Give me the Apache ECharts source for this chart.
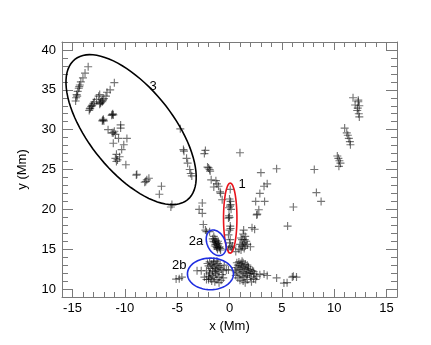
<!DOCTYPE html>
<html>
<head>
<meta charset="utf-8">
<script src="https://cdn.jsdelivr.net/npm/echarts@6/dist/echarts.min.js"></script>
<style>
  html, body { margin: 0; padding: 0; background: #fff; }
  #main { width: 431px; height: 345px; }
</style>
</head>
<body>
<div id="main"></div>
<script>
// 刻度
const xTicks = [-15, -10, -5, 0, 5, 10, 15];
const yTicks = [10, 15, 20, 25, 30, 35, 40];

// 区域3 (左上大椭圆内的点)
const region3Pts = [
    [-13.5, 37.9], [-13.8, 37.1], [-14.0, 36.5], [-14.2, 36.0], [-14.3, 35.6], [-14.35, 35.4],
    [-14.4, 35.2], [-14.5, 34.8], [-14.55, 34.2], [-14.6, 34.4], [-14.65, 34.0], [-14.7, 33.6],
    [-13.4, 32.4], [-13.35, 32.6], [-13.3, 32.7], [-13.2, 32.9], [-13.15, 33.0], [-13.1, 33.1],
    [-13.0, 33.3], [-12.9, 33.5], [-12.7, 33.8], [-12.5, 34.2], [-12.4, 34.4],
    [-12.4, 33.2], [-12.35, 33.3], [-12.3, 33.4], [-12.2, 33.6], [-12.15, 33.5], [-12.1, 33.7],
    [-12.0, 33.9], [-11.8, 34.2], [-11.7, 34.7], [-11.4, 35.0], [-11.0, 35.9],
    [-12.1, 31.2], [-12.15, 31.1], [-12.05, 31.3], [-12.0, 31.1],
    [-11.2, 31.9], [-11.25, 31.8], [-11.15, 32.0], [-11.1, 31.85],
    [-11.6, 30.0], [-11.2, 29.6], [-11.1, 29.6], [-11.0, 29.8], [-10.9, 29.4], [-10.4, 30.6],
    [-10.4, 30.2], [-10.6, 28.9], [-11.1, 28.3], [-9.8, 28.9], [-10.1, 28.1], [-10.3, 27.5],
    [-10.8, 26.9], [-10.5, 26.6], [-10.9, 26.4], [-10.7, 26.2], [-10.8, 26.0], [-9.9, 25.6],
    [-8.9, 24.3], [-8.85, 24.4], [-7.9, 23.7], [-8.1, 23.4], [-7.7, 23.9], [-8.0, 23.5],
    [-6.5, 22.9], [-6.7, 21.9]
];

// 中部散点
const centralPts = [
    [-4.7, 30.1], [-4.4, 27.5], [-4.35, 27.3], [-4.1, 26.4], [-4.0, 25.8], [-3.8, 25.0],
    [-3.7, 24.5], [-3.6, 24.2],
    [-2.3, 27.4], [-2.4, 27.0], [-2.1, 25.3], [-2.0, 25.2], [-1.9, 25.0], [-1.85, 24.8],
    [-1.75, 23.7], [-1.3, 23.6], [-1.2, 23.2], [-1.5, 22.8], [-1.05, 22.9], [-0.9, 22.2],
    [-0.85, 22.0], [-0.7, 21.2],
    [-5.5, 20.6], [-5.6, 20.3], [-2.6, 20.8], [-2.9, 20.0], [-2.6, 19.5],
    [-2.5, 18.1], [-2.2, 17.2], [-2.3, 17.4], [-1.9, 17.2],
    [1.0, 27.1], [3.0, 24.6], [4.5, 25.1], [3.6, 23.2], [3.3, 22.9], [2.9, 22.0],
    [3.35, 21.0], [2.5, 21.0], [2.8, 19.95], [2.6, 19.3], [2.65, 19.4]
];

// 右侧散点
const rightPts = [
    [8.1, 25.0], [8.3, 22.1], [8.75, 21.0], [6.1, 20.3], [5.55, 17.9],
    [10.3, 26.7], [10.4, 26.4], [10.5, 26.1], [10.6, 25.8], [10.45, 25.4],
    [11.0, 30.2], [11.2, 29.6], [11.3, 29.3], [11.4, 28.9], [11.5, 28.5], [11.55, 28.1],
    [11.8, 34.0], [12.3, 33.7], [12.3, 33.5], [12.0, 33.1], [12.4, 33.0], [12.25, 32.7],
    [12.2, 32.4], [12.35, 32.0], [12.4, 31.6]
];

// 区域1 (红色椭圆)
const region1Pts = [
    [0.07, 22.5], [0.0, 21.3], [0.1, 21.0], [0.1, 20.6], [0.05, 20.4], [-0.05, 20.2],
    [0.15, 20.0], [-0.05, 19.2], [0.0, 19.0], [-0.1, 18.9], [0.07, 17.9], [0.1, 17.6],
    [0.0, 17.4], [-0.1, 16.8], [0.07, 16.2], [0.0, 15.8], [0.07, 15.3], [0.2, 15.2],
    [-0.1, 15.0], [0.3, 15.4]
];

// 区域1右侧的点群
const eastMidPts = [
    [1.35, 17.4], [2.15, 17.7], [2.4, 17.5], [1.3, 16.9], [1.5, 16.6], [1.1, 16.4],
    [1.2, 16.2], [1.45, 16.2], [1.6, 16.0], [1.35, 15.8], [1.0, 15.6], [1.7, 15.6],
    [1.25, 15.5], [1.5, 15.4], [1.2, 15.3], [2.0, 15.3], [1.4, 15.1], [0.9, 15.0],
    [1.1, 14.9], [0.6, 14.7]
];

// 区域2a
const region2aPts = [
    [-1.5, 16.6], [-1.6, 16.3], [-1.4, 16.3], [-1.3, 16.1], [-1.55, 16.0], [-1.1, 16.0],
    [-1.45, 15.9], [-1.3, 15.9], [-1.2, 15.8], [-1.05, 15.7], [-1.35, 15.6], [-1.1, 15.5],
    [-1.4, 15.4], [-1.25, 15.3], [-0.95, 15.3], [-1.0, 15.2], [-1.2, 15.2], [-0.9, 15.1],
    [-1.15, 15.0], [-0.85, 14.9]
];

// 区域2b
const region2bPts = [
    [-2.1, 13.2], [-1.9, 13.4], [-1.7, 13.1], [-1.5, 13.3], [-1.3, 13.0], [-1.1, 13.2],
    [-0.9, 12.9], [-1.6, 12.8], [-1.8, 12.6], [-2.0, 12.9], [-1.4, 12.6], [-1.2, 12.4],
    [-1.0, 12.7], [-0.8, 12.5], [-2.2, 12.3], [-1.9, 12.1], [-1.6, 12.3], [-1.3, 11.9],
    [-1.1, 12.1], [-0.7, 11.8], [-2.0, 11.6], [-1.8, 11.3], [-1.5, 11.5], [-1.2, 11.2],
    [-1.0, 11.5], [-0.8, 11.1], [-1.7, 11.0], [-1.4, 10.9], [-2.2, 11.2], [-1.0, 10.8],
    [-0.6, 12.3], [-0.3, 12.4], [-1.5, 13.5], [-1.2, 13.5], [-0.6, 11.4], [-1.9, 11.9],
    [-2.4, 11.5], [-0.5, 13.0], [-1.35, 12.2], [-1.65, 11.7], [-0.1, 12.4],
    [-5.1, 11.25], [-4.8, 11.3], [-4.55, 11.5], [-3.1, 12.3], [-2.7, 12.3], [-2.0, 11.2]
];

// 区域2b右侧的点群
const eastLowPts = [
    [0.7, 13.3], [0.9, 13.4], [1.1, 13.2], [1.3, 13.3], [1.5, 13.1], [1.7, 13.0],
    [0.8, 13.0], [1.0, 12.9], [1.2, 12.8], [1.4, 12.7], [1.6, 12.6], [1.8, 12.5],
    [2.0, 12.4], [2.2, 12.3], [0.6, 12.7], [0.9, 12.5], [1.1, 12.4], [1.3, 12.2],
    [1.5, 12.1], [1.7, 12.0], [1.9, 11.9], [2.1, 12.0], [0.7, 12.1], [1.0, 11.9],
    [1.2, 11.6], [1.4, 11.5], [1.6, 11.7], [2.0, 11.5], [2.3, 11.3], [0.8, 11.4],
    [1.0, 11.1], [1.3, 11.0], [1.7, 11.2], [2.1, 10.9], [0.6, 11.7], [1.8, 12.8],
    [1.2, 13.5], [0.5, 12.3], [2.4, 11.9], [2.6, 11.6], [2.5, 11.2], [1.5, 10.8],
    [2.3, 12.2], [2.9, 11.8], [3.3, 11.9], [3.6, 11.7], [4.5, 11.4],
    [5.2, 10.75], [5.5, 10.8], [6.0, 11.5], [6.1, 11.6], [6.4, 11.5]
];

// 椭圆中心与标注
const ellipseCenters = [[-9.4, 30.0], [0.07, 18.9], [-1.27, 15.8], [-1.82, 11.9]];
const labelNames = ['3', '1', '2a', '2b'];
const labelPos = [[-7.3, 35.4], [1.2, 23.1], [-3.2, 16.0], [-4.8, 13.0]];

// 椭圆形状 (像素半轴, 角度, 颜色)
const ellipseShapes = [
    { a: 90, b: 42, angle: 51.3, color: '#000' },
    { a: 35, b: 6.7, angle: 90, color: '#e8141c' },
    { a: 13.5, b: 9, angle: 65, color: '#1f2ee0' },
    { a: 23, b: 15.8, angle: 0, color: '#1f2ee0' }
];

const allPts = [].concat(region3Pts, centralPts, rightPts, region1Pts, eastMidPts,
    region2aPts, region2bPts, eastLowPts);

const fontFamily = 'Liberation Sans, Arial, Helvetica, sans-serif';
const axisColor = '#7a7a7a';
const plusPath = 'path://M3,0h1v3h3v1h-3v3h-1v-3h-3v-1h3z';
const gridBox = { left: 62, right: 34, top: 42, bottom: 48 };

// 主刻度轴 (grid 0)
function majorAxis(pos, ticks, min, max, len, extra) {
    return Object.assign({
        type: 'value', gridIndex: 0, position: pos, min: min, max: max,
        axisLine: { show: true, onZero: false, lineStyle: { color: axisColor, width: 1 } },
        axisTick: { show: true, inside: true, length: len, customValues: ticks,
            lineStyle: { color: axisColor, width: 1 } },
        axisLabel: { show: false },
        splitLine: { show: false }
    }, extra || {});
}

// 次刻度轴 (grid 1, 与 grid 0 重叠)
function minorAxis(pos, min, max, len) {
    return {
        type: 'value', gridIndex: 1, position: pos, min: min, max: max, interval: 1,
        axisLine: { show: false, onZero: false },
        axisTick: { show: true, inside: true, length: len,
            lineStyle: { color: axisColor, width: 1 } },
        axisLabel: { show: false },
        splitLine: { show: false }
    };
}

const chart = echarts.init(document.getElementById('main'));

const option = {
    backgroundColor: '#fff',
    animation: false,
    grid: [Object.assign({}, gridBox), Object.assign({}, gridBox)],
    xAxis: [
        majorAxis('bottom', xTicks, -16, 16, 8, {
            name: 'x (Mm)', nameLocation: 'middle', nameGap: 22,
            nameTextStyle: { color: '#000', fontSize: 13, fontFamily: fontFamily },
            axisLabel: { show: true, customValues: xTicks, color: '#000', fontSize: 13,
                fontFamily: fontFamily, margin: 5 }
        }),
        majorAxis('top', xTicks, -16, 16, 8),
        minorAxis('bottom', -16, 16, 5),
        minorAxis('top', -16, 16, 5)
    ],
    yAxis: [
        majorAxis('left', yTicks, 9, 41, 11, {
            name: 'y (Mm)', nameLocation: 'middle', nameGap: 33, nameRotate: 90,
            nameTextStyle: { color: '#000', fontSize: 13, fontFamily: fontFamily },
            axisLabel: { show: true, customValues: yTicks, color: '#000', fontSize: 13,
                fontFamily: fontFamily, margin: 6 }
        }),
        majorAxis('right', yTicks, 9, 41, 11),
        minorAxis('left', 9, 41, 6),
        minorAxis('right', 9, 41, 6)
    ],
    series: [
        {
            type: 'scatter',
            xAxisIndex: 0,
            yAxisIndex: 0,
            data: allPts,
            symbol: plusPath,
            symbolSize: 8,
            itemStyle: { color: 'rgba(0,0,0,0.68)' },
            z: 3
        },
        {
            type: 'custom',
            xAxisIndex: 0,
            yAxisIndex: 0,
            data: ellipseCenters,
            z: 4,
            renderItem: function (params, api) {
                const c = api.coord([api.value(0), api.value(1)]);
                const s = ellipseShapes[params.dataIndex];
                const phi = s.angle * Math.PI / 180;
                const pts = [];
                for (let i = 0; i < 90; i++) {
                    const t = i / 90 * Math.PI * 2;
                    pts.push([
                        c[0] + s.a * Math.cos(t) * Math.cos(phi) - s.b * Math.sin(t) * Math.sin(phi),
                        c[1] + s.a * Math.cos(t) * Math.sin(phi) + s.b * Math.sin(t) * Math.cos(phi)
                    ]);
                }
                return {
                    type: 'polygon',
                    shape: { points: pts },
                    style: { fill: 'none', stroke: s.color, lineWidth: 1.6 }
                };
            }
        },
        {
            type: 'custom',
            xAxisIndex: 0,
            yAxisIndex: 0,
            data: labelPos,
            z: 5,
            renderItem: function (params, api) {
                const c = api.coord([api.value(0), api.value(1)]);
                return {
                    type: 'text',
                    x: c[0], y: c[1],
                    style: {
                        text: labelNames[params.dataIndex],
                        fill: '#000', fontSize: 13, fontFamily: fontFamily,
                        align: 'center', verticalAlign: 'middle'
                    }
                };
            }
        }
    ]
};

chart.setOption(option);
</script>
</body>
</html>
